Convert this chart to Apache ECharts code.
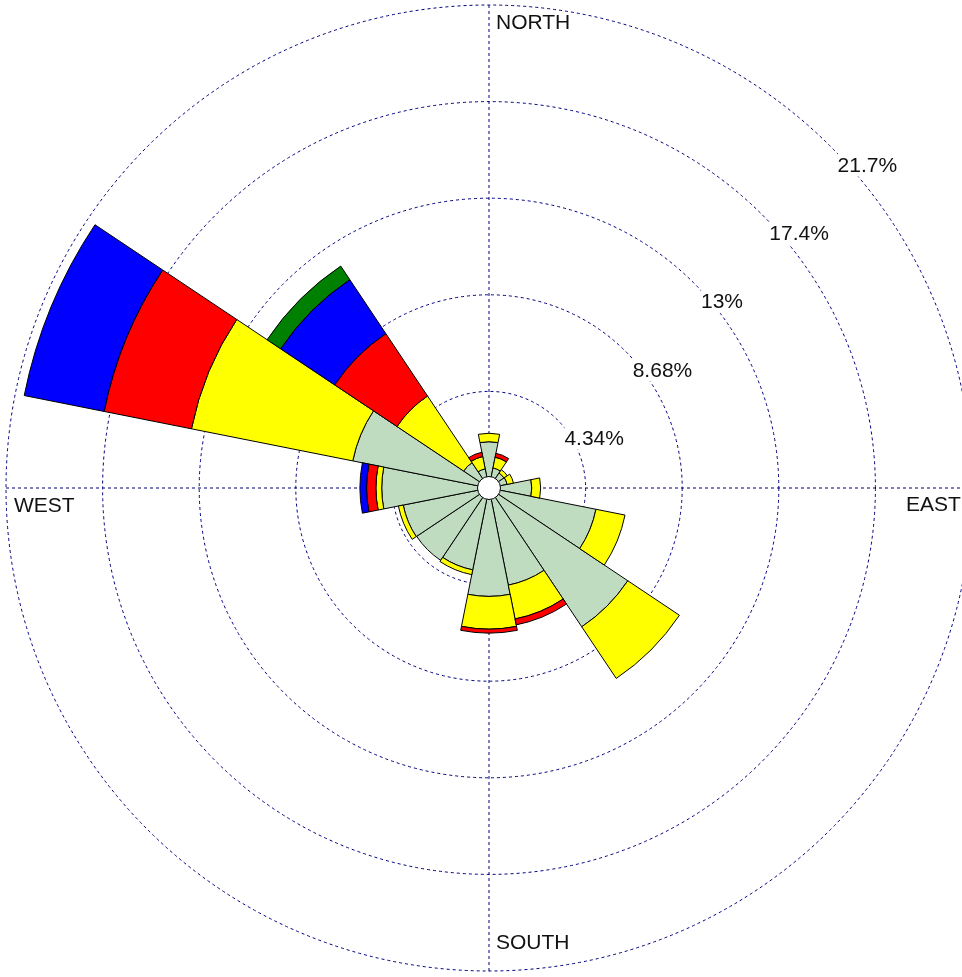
<!DOCTYPE html>
<html>
<head>
<meta charset="utf-8">
<title>Wind rose</title>
<script src="https://cdn.jsdelivr.net/npm/echarts@6/dist/echarts.min.js"></script>
<style>
  html, body { margin: 0; padding: 0; background: #fff; }
  #rose { width: 962px; height: 977px; }
</style>
</head>
<body>
<div id="rose"></div>
<script>
// 16 directions, clockwise from north
var directions = ['N','NNE','NE','ENE','E','ESE','SE','SSE','S','SSW','SW','WSW','W','WNW','NW','NNW'];

// percent of time in each speed class (stacked outward)
var class1 = [2.08, 0.92, 0.81, 0.83, 1.92, 4.90, 7.50, 4.45, 4.87, 3.75, 3.91, 3.93, 4.82, 6.24, 1.37, 0.88];
var class2 = [0.38, 0.49, 0.18, 0.29, 0.40, 1.33, 2.79, 1.55, 1.47, 0.22, null, 0.22, 0.26, 7.39, 3.60, 0.56];
var class3 = [null, 0.18, null, null, null, null, null, 0.27, 0.18, null, null, null, 0.42, 4.00, 3.37, 0.20];
var class4 = [null, null, null, null, null, null, null, null, null, null, null, null, 0.30, 3.66, 2.92, null];
var class5 = [null, null, null, null, null, null, null, null, null, null, null, null, null, null, 0.73, null];

// ring ticks (percent)
var ringStep = 4.34;
var ringMax = 21.7;

var compassNames = ['NORTH', 'EAST', 'SOUTH', 'WEST'];

var classColors = ['#c0dcc0', '#ffff00', '#ff0000', '#0000ff', '#008000'];
var gridColor = '#000080';

var cx = 489, cy = 488, R = 483;

var chart = echarts.init(document.getElementById('rose'));

function barSeries(data, idx) {
  return {
    type: 'bar',
    coordinateSystem: 'polar',
    polarIndex: 0,
    stack: 'speed',
    data: data,
    barCategoryGap: '0%',
    itemStyle: { color: classColors[idx], borderColor: '#000', borderWidth: 1 },
    emphasis: { disabled: true },
    z: 3
  };
}

var compassPos = [[496, 23], [906, 505], [496, 943], [14, 506]];

var option = {
  animation: false,
  backgroundColor: '#fff',
  polar: [
    { center: [cx, cy], radius: R },   // bars
    { center: [cx, cy], radius: R },   // rings + percent labels
    { center: [cx, cy], radius: R }    // N-S / E-W lines
  ],
  angleAxis: [
    {
      polarIndex: 0, type: 'category', data: directions,
      startAngle: 90 + 360 / directions.length / 2, clockwise: true,
      axisLine: { show: false }, axisTick: { show: false },
      axisLabel: { show: false }, splitLine: { show: false }
    },
    {
      polarIndex: 1, type: 'value', min: 0, max: 360, startAngle: 45,
      axisLine: { show: false }, axisTick: { show: false },
      axisLabel: { show: false }, splitLine: { show: false }
    },
    {
      polarIndex: 2, type: 'value', min: 0, max: 360, interval: 90, startAngle: 90,
      axisLine: { show: false }, axisTick: { show: false }, axisLabel: { show: false },
      splitLine: { show: true, lineStyle: { color: gridColor, width: 1, type: [3, 3] } }
    }
  ],
  radiusAxis: [
    {
      polarIndex: 0, min: 0, max: ringMax,
      axisLine: { show: false }, axisTick: { show: false },
      axisLabel: { show: false }, splitLine: { show: false }
    },
    {
      polarIndex: 1, min: 0, max: ringMax, interval: ringStep,
      axisLine: { show: false }, axisTick: { show: false },
      splitLine: { show: true, lineStyle: { color: gridColor, width: 1, type: [3, 3] } },
      axisLabel: {
        show: true, showMinLabel: false, margin: -10,
        align: 'left', verticalAlign: 'top', padding: [2, 0, 0, 0],
        color: '#111', fontSize: 21, fontFamily: 'Liberation Sans, Arial, sans-serif',
        backgroundColor: '#fff',
        formatter: function (v) { return +v.toPrecision(3) + '%'; }
      }
    },
    {
      polarIndex: 2, min: 0, max: ringMax,
      axisLine: { show: false }, axisTick: { show: false },
      axisLabel: { show: false }, splitLine: { show: false }
    }
  ],
  series: [
    barSeries(class1, 0),
    barSeries(class2, 1),
    barSeries(class3, 2),
    barSeries(class4, 3),
    barSeries(class5, 4),
    {
      // calm circle in the middle
      type: 'scatter', coordinateSystem: 'polar', polarIndex: 0,
      data: [[0, 0]], symbol: 'circle', symbolSize: 23,
      itemStyle: { color: '#fff', borderColor: '#000', borderWidth: 1, opacity: 1 },
      emphasis: { disabled: true },
      z: 5
    }
  ],
  graphic: compassNames.map(function (name, i) {
    return {
      type: 'text', x: compassPos[i][0], y: compassPos[i][1], z: 10,
      style: {
        text: name, fill: '#111', fontSize: 21,
        fontFamily: 'Liberation Sans, Arial, sans-serif',
        align: 'left', verticalAlign: 'middle'
      }
    };
  })
};

chart.setOption(option);
</script>
</body>
</html>
